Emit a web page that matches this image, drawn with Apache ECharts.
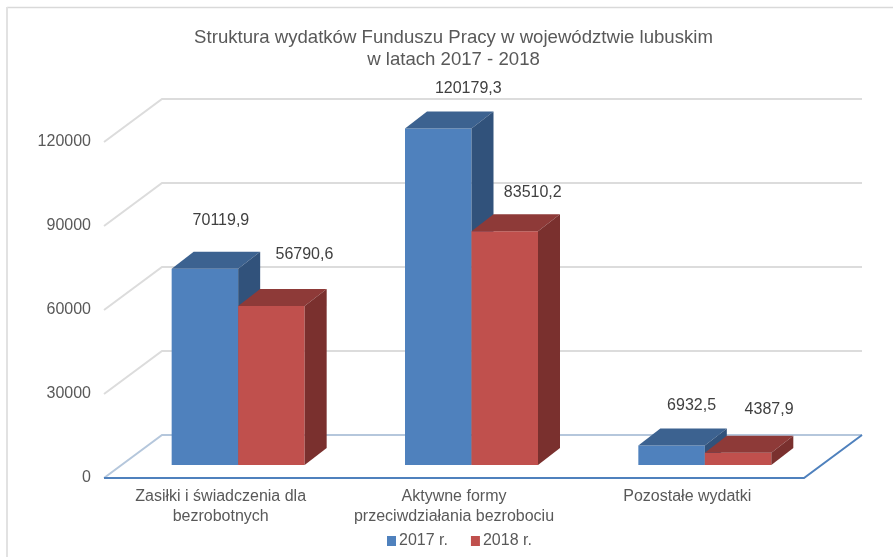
<!DOCTYPE html>
<html lang="pl">
<head>
<meta charset="UTF-8">
<title>Fundusz Pracy</title>
<script src="https://cdn.jsdelivr.net/npm/echarts@6/dist/echarts.min.js"></script>
<style>
    html, body { margin: 0; padding: 0; background: #fff; }
    #main { width: 893px; height: 557px; }
</style>
</head>
<body>
<div id="main"></div>
<script>
    const categories = ['Zasiłki i świadczenia dla\nbezrobotnych', 'Aktywne formy\nprzeciwdziałania bezrobociu', 'Pozostałe wydatki'];
    const years = ['2017 r.', '2018 r.'];
    const values2017 = [70119.9, 120179.3, 6932.5];
    const values2018 = [56790.6, 83510.2, 4387.9];
    const yTicks = [0, 30000, 60000, 90000, 120000];

    // label shift from the bar's top centre, the labels sit by hand in the original
    const labelShift2017 = [[16, -48], [30, -40], [20, -40]];
    const labelShift2018 = [[33, -51], [28, -39], [31, -43]];

    const textColor = '#595959';
    const font = 'Liberation Sans';
    // wall depth, bar depth, and how far the bars stand in from the front edge
    const wall = [58, -43];
    const depth = [22, -17];
    const inset = [17.5, -13];
    const barWidth = 66.5;

    function poly(points, fill) {
        return { type: 'polygon', shape: { points: points }, style: { fill: fill } };
    }

    function barSeries(name, values, side, front, top, dark, shifts) {
        return {
            name: name,
            type: 'custom',
            coordinateSystem: 'cartesian2d',
            color: front,
            z: 3,
            data: values.map((v, i) => [i, v]),
            encode: { x: 0, y: 1 },
            renderItem: function (params, api) {
                let i = api.value(0);
                let v = api.value(1);
                let base = api.coord([i, 0]);
                let head = api.coord([i, v]);
                let x0 = base[0] + inset[0] + (side - 1) * barWidth;
                let x1 = x0 + barWidth;
                let y0 = base[1] + inset[1];
                let y1 = head[1] + inset[1];
                let dx = depth[0], dy = depth[1];
                let label = String(v).replace('.', ',');
                let s = shifts[params.dataIndex];
                return {
                    type: 'group',
                    children: [
                        poly([[x0, y0], [x1, y0], [x1, y1], [x0, y1]], front),
                        poly([[x0, y1], [x1, y1], [x1 + dx, y1 + dy], [x0 + dx, y1 + dy]], top),
                        poly([[x1, y0], [x1 + dx, y0 + dy], [x1 + dx, y1 + dy], [x1, y1]], dark),
                        {
                            type: 'text',
                            z2: 10,
                            style: {
                                x: (x0 + x1) / 2 + s[0], y: y1 + s[1], text: label,
                                fill: '#404040', font: '16px "' + font + '"',
                                align: 'center', verticalAlign: 'middle'
                            }
                        }
                    ]
                };
            }
        };
    }

    // back wall lines, each one runs from the tick up the side wall and along the back
    const wallSeries = {
        type: 'custom',
        coordinateSystem: 'cartesian2d',
        silent: true,
        z: 1,
        data: yTicks.map(v => [0, v]),
        encode: { x: 0, y: 1 },
        renderItem: function (params, api) {
            let v = api.value(1);
            let y = api.coord([0, v])[1];
            let x = params.coordSys.x;
            let w = params.coordSys.width;
            let bx = x + wall[0], by = y + wall[1];
            if (v === 0) {
                return {
                    type: 'group',
                    children: [
                        { type: 'polyline', shape: { points: [[x, y], [bx, by], [bx + w, by]] },
                          style: { stroke: '#B5C7DC', lineWidth: 2, fill: null } },
                        { type: 'polyline', shape: { points: [[x, y], [x + w, y], [bx + w, by]] },
                          style: { stroke: '#4F81BD', lineWidth: 2, fill: null } }
                    ]
                };
            }
            return {
                type: 'polyline',
                shape: { points: [[x, y], [bx, by], [bx + w, by]] },
                style: { stroke: '#DCDCDC', lineWidth: 2, fill: null }
            };
        }
    };

    let myChart = echarts.init(document.getElementById('main'), null, { renderer: 'canvas' });

    myChart.setOption({
        animation: false,
        backgroundColor: '#fff',
        textStyle: { fontFamily: font },
        title: {
            text: 'Struktura wydatków Funduszu Pracy w województwie lubuskim\nw latach 2017 - 2018',
            left: 448.5,
            top: 22,
            textAlign: 'center',
            textStyle: { color: textColor, fontSize: 18.6, fontWeight: 'normal', lineHeight: 22, fontFamily: font }
        },
        legend: {
            data: years,
            left: 382,
            top: 528,
            itemWidth: 9,
            itemHeight: 10,
            itemGap: 23,
            icon: 'rect',
            textStyle: { color: textColor, fontSize: 16, fontFamily: font, padding: [0, 0, 0, -2] }
        },
        grid: { left: 104, right: 89, top: 142, bottom: 79 },
        xAxis: {
            type: 'category',
            data: categories,
            axisLine: { show: false },
            axisTick: { show: false },
            axisLabel: { color: textColor, fontSize: 16, lineHeight: 20, margin: 9, interval: 0, fontFamily: font }
        },
        yAxis: {
            type: 'value',
            min: 0,
            max: 120000,
            interval: 30000,
            axisLine: { show: false },
            axisTick: { show: false },
            splitLine: { show: false },
            axisLabel: { color: textColor, fontSize: 16, margin: 13, fontFamily: font, formatter: v => String(v) }
        },
        graphic: [
            { type: 'line', shape: { x1: 7, y1: 7.5, x2: 893, y2: 7.5 }, style: { stroke: '#D9D9D9', lineWidth: 1.5 } },
            { type: 'line', shape: { x1: 7, y1: 7, x2: 7, y2: 557 }, style: { stroke: '#E2E2E2', lineWidth: 2 } }
        ],
        series: [
            wallSeries,
            barSeries(years[0], values2017, 0, '#4F81BD', '#3C6290', '#31527B', labelShift2017),
            barSeries(years[1], values2018, 1, '#C0504D', '#8E3A38', '#7A302E', labelShift2018)
        ]
    });
</script>
</body>
</html>
